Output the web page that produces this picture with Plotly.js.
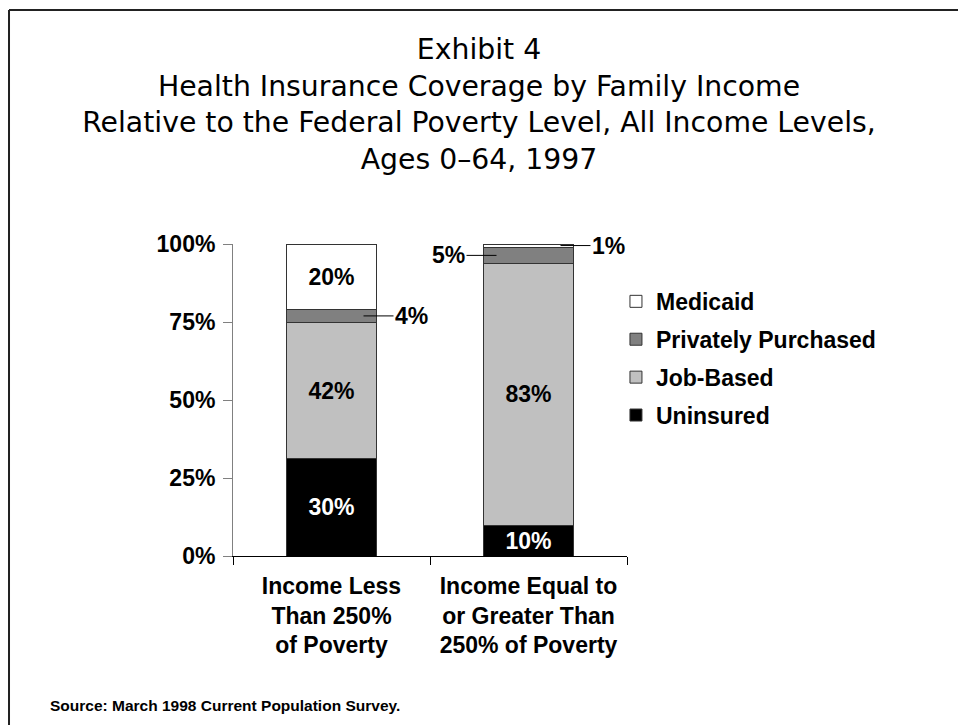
<!DOCTYPE html>
<html>
<head>
<meta charset="utf-8">
<script src="https://cdn.plot.ly/plotly-3.0.1.min.js"></script>
<style>
  html, body { margin: 0; padding: 0; background: #fff; }
  #chart { width: 958px; height: 725px; }
</style>
</head>
<body>
<div id="chart"></div>
<script>
// ---- Data ----
const categories = ['Income Less<br>Than 250%<br>of Poverty', 'Income Equal to<br>or Greater Than<br>250% of Poverty'];
const seriesNames = ['Uninsured', 'Job-Based', 'Privately Purchased', 'Medicaid'];
const uninsured = [31.1, 9.9];
const jobBased = [43.7, 83.8];
const privatelyPurchased = [4.3, 5.3];
const medicaid = [20.9, 1.0];
const uninsuredLabels = ['30%', '10%'];
const jobBasedLabels = ['42%', '83%'];
const privatelyPurchasedLabels = ['4%', '5%'];
const medicaidLabels = ['20%', '1%'];
const yTickVals = [0, 25, 50, 75, 100];
const yTickText = ['0%', '25%', '50%', '75%', '100%'];
const titleLines = ['Exhibit 4', 'Health Insurance Coverage by Family Income',
  'Relative to the Federal Poverty Level, All Income Levels,', 'Ages 0\u201364, 1997'];
const sourceNote = 'Source: March 1998 Current Population Survey.';

// ---- Styling ----
const LABEL_FONT = 'Liberation Sans, Arial, Helvetica, sans-serif';
const TITLE_FONT = 'DejaVu Sans, Verdana, sans-serif';
const FS = 23;
const colors = ['#000000', '#c0c0c0', '#808080', '#ffffff'];
const textColors = ['#ffffff', '#000000', '#000000', '#000000'];
const legendRanks = [4, 3, 2, 1];
const values = [uninsured, jobBased, privatelyPurchased, medicaid];
const labels = [uninsuredLabels, jobBasedLabels, privatelyPurchasedLabels, medicaidLabels];

const traces = values.map((vals, s) => ({
  type: 'bar',
  name: seriesNames[s],
  legendgroup: 'g' + s,
  legendrank: legendRanks[s],
  x: categories,
  y: vals,
  text: vals.map((v, i) => (v >= 8 ? labels[s][i] : '')),
  textposition: 'inside',
  insidetextanchor: 'middle',
  constraintext: 'none',
  textangle: 0,
  textfont: { family: LABEL_FONT, size: FS, weight: 700, color: textColors[s] },
  marker: { color: colors[s], line: { color: '#333333', width: 1 } },
  hoverinfo: 'skip'
}));

// callouts for thin segments (leader line + label outside the bar)
const callouts = [
  { s: 2, i: 0, side: 1 },
  { s: 2, i: 1, side: -1 },
  { s: 3, i: 1, side: 1 }
];
const annotations = callouts.map(c => {
  let base = 0;
  for (let k = 0; k < c.s; k++) base += values[k][c.i];
  return {
    x: categories[c.i], y: base + values[c.s][c.i] / 2, xref: 'x', yref: 'y',
    text: labels[c.s][c.i],
    showarrow: true, arrowhead: 0, arrowwidth: 1, arrowcolor: '#000', standoff: 0,
    ax: c.side * 48, ay: 0, xshift: c.side * 32,
    font: { family: LABEL_FONT, size: FS, weight: 700, color: '#000' }
  };
});
annotations.push({
  text: sourceNote, xref: 'paper', yref: 'paper', x: -0.47, y: -0.48,
  xanchor: 'left', yanchor: 'middle', showarrow: false,
  font: { family: LABEL_FONT, size: 15.5, weight: 700, color: '#000' }
});

const layout = {
  width: 958, height: 725,
  margin: { l: 233, r: 331, t: 244, b: 169, pad: 0 },
  paper_bgcolor: '#ffffff', plot_bgcolor: '#ffffff',
  title: {
    text: titleLines.join('<br>'),
    font: { family: TITLE_FONT, size: 28.3, color: '#000' },
    x: 0.5, xref: 'container', xanchor: 'center',
    y: 0.919, yref: 'container', yanchor: 'top'
  },
  barmode: 'stack',
  bargap: 0.543,
  xaxis: {
    type: 'category', range: [-0.5, 1.5],
    ticks: 'outside', tickson: 'boundaries', ticklen: 8, tickcolor: '#000',
    showline: true, linecolor: '#000', linewidth: 1, showgrid: false,
    ticklabelstandoff: 9,
    tickfont: { family: LABEL_FONT, size: FS, weight: 700, color: '#000' },
    fixedrange: true
  },
  yaxis: {
    range: [0, 100], tickvals: yTickVals, ticktext: yTickText,
    ticks: 'outside', ticklen: 9, tickcolor: '#808080',
    showline: true, linecolor: '#808080', linewidth: 1,
    showgrid: false, zeroline: false,
    ticklabelstandoff: 3,
    tickfont: { family: LABEL_FONT, size: FS, weight: 700, color: '#000' },
    fixedrange: true
  },
  showlegend: true,
  legend: {
    x: 0.972, xanchor: 'left', y: 0.885, yanchor: 'top',
    traceorder: 'grouped', tracegroupgap: 5,
    font: { family: LABEL_FONT, size: FS, weight: 700, color: '#000' },
    bgcolor: 'rgba(0,0,0,0)', borderwidth: 0
  },
  annotations: annotations,
  shapes: [
    { type: 'line', xref: 'paper', yref: 'paper', x0: -0.5685, x1: 1.85, y0: 1.75, y1: 1.75,
      line: { color: '#222', width: 2 } },
    { type: 'line', xref: 'paper', yref: 'paper', x0: -0.5685, x1: -0.5685, y0: 1.75, y1: -0.56,
      line: { color: '#222', width: 2 } }
  ]
};

Plotly.newPlot('chart', traces, layout, { displayModeBar: false, staticPlot: true });
</script>
</body>
</html>
